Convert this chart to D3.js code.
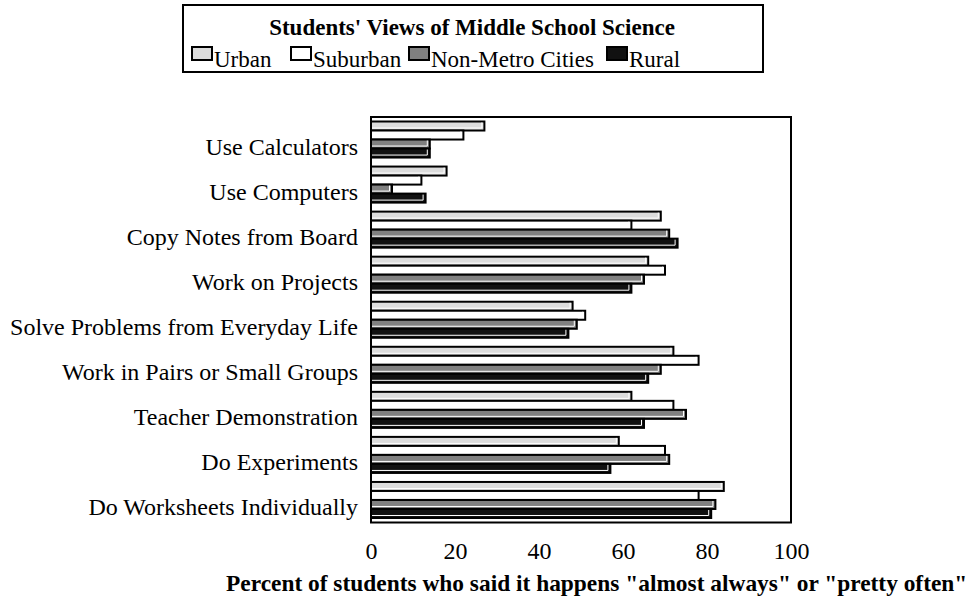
<!DOCTYPE html>
<html>
<head>
<meta charset="utf-8">
<script src="https://cdn.jsdelivr.net/npm/d3@7"></script>
<style>
  html, body { margin: 0; padding: 0; background: #fff; }
  svg { display: block; }
  svg text { font-family: "Liberation Serif", "Times New Roman", serif; }
</style>
</head>
<body>
<svg id="chart" width="969" height="599"></svg>
<script>
// ---- Data ----
const categories = [
  "Use Calculators",
  "Use Computers",
  "Copy Notes from Board",
  "Work on Projects",
  "Solve Problems from Everyday Life",
  "Work in Pairs or Small Groups",
  "Teacher Demonstration",
  "Do Experiments",
  "Do Worksheets Individually"
];
const seriesNames = ["Urban", "Suburban", "Non-Metro Cities", "Rural"];
const urban     = [27, 18, 69, 66, 48, 72, 62, 59, 84];
const suburban  = [22, 12, 62, 70, 51, 78, 72, 70, 78];
const nonMetro  = [14,  5, 71, 65, 49, 69, 75, 71, 82];
const rural     = [14, 13, 73, 62, 47, 66, 65, 57, 81];
const xTicks = [0, 20, 40, 60, 80, 100];
const chartTitle = "Students' Views of Middle School Science";
const xAxisTitle = "Percent of students who said it happens \"almost always\" or \"pretty often\"";

const seriesValues = [urban, suburban, nonMetro, rural];
const seriesColors = ["#dcdcdc", "#ffffff", "#808080", "#111111"];

// ---- Layout ----
const svg = d3.select("#chart");
const plot = { left: 371, right: 791, top: 117, bottom: 522.5 };
const SERIF = "'Liberation Serif', 'Times New Roman', serif";

const x = d3.scaleLinear().domain([0, 100]).range([plot.left, plot.right]);
const y = d3.scaleBand().domain(categories).range([plot.top, plot.bottom]).paddingInner(0).paddingOuter(0);
const yInner = d3.scaleBand().domain(seriesNames)
  .range([y.bandwidth() * 0.1, y.bandwidth() * 0.9]).padding(0);

// ---- Bars ----
const groups = svg.append("g").selectAll("g.cat")
  .data(categories)
  .join("g")
  .attr("class", "cat")
  .attr("transform", d => `translate(0,${y(d)})`);

groups.each(function(cat, ci) {
  const g = d3.select(this);
  seriesNames.forEach((s, si) => {
    const v = seriesValues[si][ci];
    const bx = x(0), bw = x(v) - x(0);
    const by = yInner(s), bh = yInner.bandwidth();
    g.append("rect")
      .attr("x", bx).attr("y", by)
      .attr("width", bw).attr("height", bh)
      .attr("fill", seriesColors[si])
      .attr("stroke", "#000").attr("stroke-width", 2);
    // bevel highlight: inner right and bottom
    g.append("polyline")
      .attr("points", `${bx + bw - 2.5},${by + 1} ${bx + bw - 2.5},${by + bh - 2.5} ${bx + 1},${by + bh - 2.5}`)
      .attr("fill", "none")
      .attr("stroke", "#fff").attr("stroke-width", 1);
  });
});

// ---- Plot frame ----
svg.append("rect")
  .attr("x", plot.left).attr("y", plot.top)
  .attr("width", plot.right - plot.left).attr("height", plot.bottom - plot.top)
  .attr("fill", "none").attr("stroke", "#000").attr("stroke-width", 2);

// ---- Category labels ----
svg.append("g").selectAll("text")
  .data(categories)
  .join("text")
  .attr("x", 358)
  .attr("y", d => y(d) + y.bandwidth() / 2 + 15)
  .attr("text-anchor", "end")
  .style("font-family", SERIF)
  .style("font-size", "24px")
  .attr("fill", "#000")
  .text(d => d);

// ---- X axis ----
const xAxis = d3.axisBottom(x).tickValues(xTicks).tickSize(0).tickFormat(d3.format("d"));
const axG = svg.append("g").attr("transform", `translate(0,${plot.bottom})`).call(xAxis);
axG.select(".domain").remove();
axG.attr("font-family", null).attr("font-size", null);
axG.selectAll("text")
  .attr("y", 559 - plot.bottom).attr("dy", 0)
  .style("font-family", SERIF)
  .style("font-size", "24px")
  .attr("fill", "#000");

svg.append("text")
  .attr("x", 226).attr("y", 591)
  .style("font-family", SERIF)
  .style("font-size", "23.4px").style("font-weight", "bold")
  .attr("fill", "#000")
  .text(xAxisTitle);

// ---- Legend ----
const legend = svg.append("g");
legend.append("rect")
  .attr("x", 183).attr("y", 5).attr("width", 580).attr("height", 67)
  .attr("fill", "#fff").attr("stroke", "#000").attr("stroke-width", 2);
legend.append("text")
  .attr("x", 472).attr("y", 35)
  .attr("text-anchor", "middle")
  .style("font-family", SERIF)
  .style("font-size", "23px").style("font-weight", "bold")
  .text(chartTitle);

const legendX = [191, 290, 408, 606];
seriesNames.forEach((s, i) => {
  const lx = legendX[i];
  legend.append("rect")
    .attr("x", lx + 1).attr("y", 47)
    .attr("width", 20).attr("height", 13)
    .attr("fill", seriesColors[i])
    .attr("stroke", "#000").attr("stroke-width", 2);
  legend.append("text")
    .attr("x", lx + 23).attr("y", 67)
    .style("font-family", SERIF)
    .style("font-size", "23px")
    .text(s);
});
</script>
</body>
</html>
